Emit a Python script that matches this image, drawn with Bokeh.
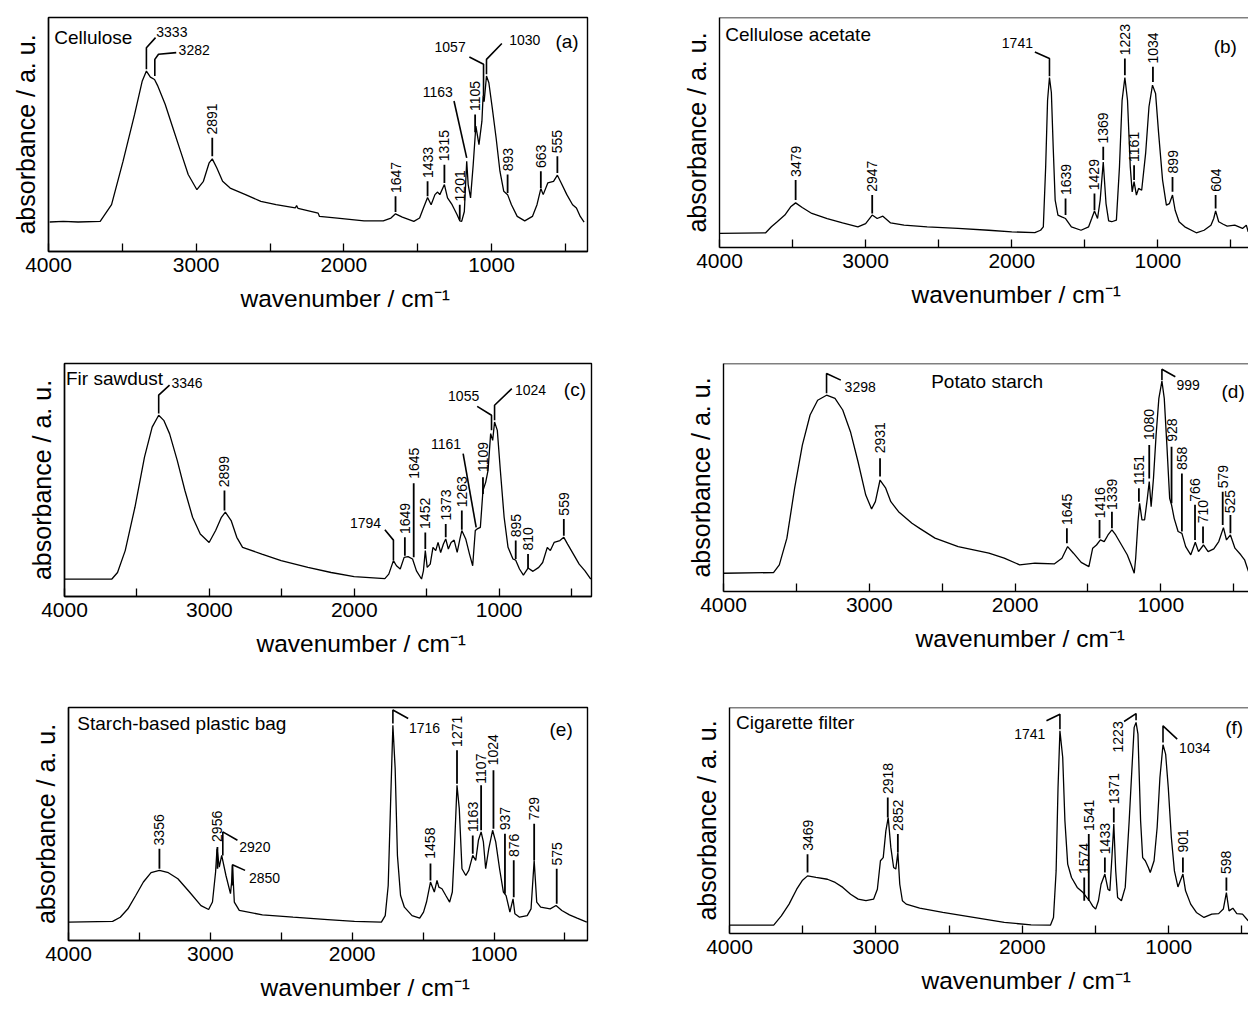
import math
from bokeh.plotting import figure
from bokeh.layouts import column, row
from bokeh.models import FixedTicker, Span, ColumnDataSource, Title
from bokeh.core.properties import value
from bokeh.embed import file_html
from bokeh.resources import INLINE

FONT = "Liberation Sans"
X_TICKS = [4000, 3000, 2000, 1000]
X_MINOR = [3500, 2500, 1500, 500]
X_TICK_LABELS = ["4000", "3000", "2000", "1000"]
Y_LABEL = "absorbance / a. u."
X_LABEL = "wavenumber / cm\u207b\u00b9"

# ---------------- (a) Cellulose ----------------
A_NAME, A_TAG = "Cellulose", "(a)"
A_WN = [3992, 3900, 3800, 3650, 3573, 3495, 3417, 3365, 3337, 3310, 3282, 3262, 3210, 3158, 3106,
        3054, 2995, 2951, 2912, 2891, 2860, 2821, 2770, 2666, 2562, 2459, 2329, 2320, 2310, 2174,
        2165, 2044, 1863, 1733, 1681, 1650, 1604, 1526, 1487, 1461, 1433, 1409, 1383, 1365, 1350,
        1319, 1298, 1267, 1233, 1215, 1202, 1184, 1168, 1158, 1142, 1124, 1106, 1085, 1065, 1057,
        1050, 1034, 1018, 995, 969, 943, 917, 891, 865, 826, 775, 723, 692, 666, 650, 619, 580,
        554, 528, 490, 451, 425, 399, 373]
A_AB = [12.6, 12.9, 12.6, 12.9, 20.0, 38.6, 58.6, 72.9, 77.1, 74.5, 73.5, 71.0, 62.9, 52.9, 42.9,
        32.9, 26.4, 30.0, 37.9, 39.6, 35.7, 30.0, 27.1, 24.3, 21.4, 20.0, 18.6, 19.6, 18.4, 16.4,
        15.0, 14.3, 13.1, 13.1, 14.3, 16.1, 14.7, 12.9, 14.3, 18.6, 23.1, 20.0, 24.3, 25.4, 24.3,
        28.6, 22.9, 20.0, 15.7, 13.1, 12.9, 17.1, 38.6, 28.6, 22.9, 37.1, 53.6, 45.7, 55.7, 66.5,
        64.0, 75.0, 72.1, 61.4, 48.6, 34.3, 25.7, 24.3, 20.0, 15.0, 13.1, 15.0, 20.0, 26.9, 24.3,
        29.3, 30.0, 32.6, 29.3, 24.3, 20.0, 18.6, 15.0, 12.6]
A_VPEAKS = [("2891", 2891, 40.7, 48.6, 50.0), ("1647", 1650, 16.9, 23.6, 25.0),
            ("1433", 1433, 23.6, 30.0, 31.4), ("1315", 1319, 29.3, 37.1, 38.6),
            ("1201", 1215, 13.6, 20.0, 21.4), ("1105", 1111, 51.0, 58.6, 60.0),
            ("893", 891, 25.0, 32.9, 34.3), ("663", 666, 27.1, 34.3, 35.7),
            ("555", 554, 33.6, 40.7, 42.0)]
A_BENT = [("3333", [3337, 3337, 3275], [77.9, 87.1, 91.4], 3270, 93.6, "left", 0),
          ("3282", [3280, 3280, 3255, 3135], [75.0, 82.1, 84.3, 85.0], 3119, 86.0, "left", 0),
          ("1163", [1168, 1254], [40.0, 64.3], 1262, 68.3, "right", 0),
          ("1057", [1054, 1054, 1150], [66.4, 80.0, 83.1], 1175, 87.4, "right", 0),
          ("1030", [1034, 1034, 930], [75.7, 82.1, 88.9], 880, 90.3, "left", 0)]
A_NAME_POS, A_TAG_POS = (3961, 91.4), (567, 89.7)

# ---------------- (b) Cellulose acetate ----------------
B_NAME, B_TAG = "Cellulose acetate", "(b)"
B_WN = [4000, 3684, 3645, 3605, 3553, 3513, 3479, 3434, 3368, 3263, 3158, 3053, 3000, 2955, 2921,
        2882, 2829, 2737, 2579, 2368, 2158, 2000, 1842, 1803, 1784, 1768, 1755, 1742, 1729, 1716,
        1703, 1684, 1658, 1632, 1592, 1526, 1474, 1453, 1434, 1413, 1395, 1374, 1355, 1337, 1316,
        1284, 1263, 1245, 1226, 1208, 1189, 1176, 1163, 1147, 1132, 1111, 1084, 1061, 1037, 1016,
        995, 968, 942, 921, 900, 882, 855, 816, 737, 684, 637, 618, 605, 584, 553, 526, 474, 421,
        395, 382]
B_AB = [6.1, 6.4, 9.0, 11.2, 14.1, 17.7, 19.4, 17.4, 14.8, 12.6, 10.7, 9.0, 10.4, 14.1, 12.6,
        13.6, 10.7, 9.7, 9.0, 8.3, 7.5, 6.8, 6.5, 7.5, 9.0, 35.0, 64.0, 73.9, 67.4, 42.8,
        20.6, 14.1, 13.3, 12.6, 9.0, 7.5, 9.0, 12.6, 15.9, 12.6, 20.6, 37.2, 19.1, 11.6, 11.2,
        11.9, 35.0, 64.0, 73.9, 64.0, 35.0, 24.2, 28.6, 22.8, 25.7, 24.9, 40.9, 61.2, 70.6, 67.0,
        49.6, 29.3, 18.4, 19.1, 22.8, 16.2, 11.2, 9.0, 6.4, 7.5, 9.7, 12.6, 15.9, 11.2, 10.1, 9.3,
        9.7, 8.3, 9.7, 6.8]
B_VPEAKS = [("3479", 3479, 20.6, 29.3, 30.7), ("2947", 2955, 14.8, 22.8, 24.2),
            ("1639", 1632, 14.1, 21.3, 22.8), ("1429", 1434, 16.2, 23.5, 24.9),
            ("1369", 1374, 38.0, 43.8, 45.2), ("1223", 1226, 74.9, 82.2, 83.6),
            ("1161", 1163, 29.3, 35.8, 37.2), ("1034", 1034, 72.0, 78.6, 80.0),
            ("899", 900, 24.2, 30.7, 32.2), ("604", 605, 17.0, 22.8, 24.2)]
B_BENT = [("1741", [1742, 1742, 1842], [74.5, 82.2, 85.0], 1855, 88.7, "right", 0)]
B_NAME_POS, B_TAG_POS = (3961, 92.8), (618, 87.2)

# ---------------- (c) Fir sawdust ----------------
C_NAME, C_TAG = "Fir sawdust", "(c)"
C_WN = [4000, 3673, 3634, 3581, 3514, 3448, 3395, 3350, 3315, 3275, 3222, 3169, 3116, 3063, 3002,
        2957, 2917, 2890, 2850, 2811, 2771, 2638, 2505, 2320, 2160, 2001, 1789, 1762, 1730, 1709,
        1683, 1656, 1629, 1598, 1571, 1536, 1523, 1510, 1497, 1476, 1457, 1438, 1422, 1404, 1385,
        1369, 1351, 1332, 1311, 1290, 1271, 1258, 1231, 1205, 1183, 1165, 1152, 1130, 1112, 1093,
        1077, 1059, 1045, 1032, 1013, 992, 966, 939, 905, 886, 860, 833, 801, 767, 727, 700, 668,
        647, 621, 581, 554, 528, 488, 448, 408, 368]
C_AB = [7.5, 7.5, 10.3, 19.7, 38.3, 59.8, 72.7, 77.8, 75.6, 69.9, 58.4, 45.5, 34.0, 26.8, 23.2,
        28.3, 34.0, 36.2, 32.6, 25.4, 21.1, 18.2, 15.4, 12.5, 10.3, 8.5, 7.7, 9.6, 15.4, 13.2,
        11.8, 16.8, 17.1, 16.1, 11.0, 7.5, 11.0, 19.7, 12.5, 13.9, 21.1, 19.7, 23.2, 18.9, 22.5,
        24.7, 20.4, 23.2, 24.2, 18.9, 24.7, 28.3, 24.7, 18.2, 13.2, 28.3, 29.0, 29.7, 45.5, 49.1,
        54.1, 69.9, 67.0, 74.9, 71.3, 54.1, 34.0, 21.1, 16.1, 15.6, 11.8, 9.2, 12.2, 10.8, 12.5,
        14.6, 21.1, 19.7, 23.2, 24.0, 25.4, 22.5, 18.2, 13.9, 11.0, 7.5]
C_VPEAKS = [("2899", 2896, 36.9, 45.5, 46.9), ("1649", 1651, 17.5, 25.4, 26.8),
            ("1645", 1590, 16.8, 48.6, 50.5), ("1452", 1510, 20.4, 27.5, 29.0),
            ("1373", 1369, 25.4, 31.1, 32.6), ("1263", 1258, 28.6, 36.9, 38.3),
            ("1109", 1112, 44.0, 51.2, 53.4), ("895", 886, 16.1, 24.0, 25.4),
            ("810", 801, 12.2, 18.2, 19.7), ("559", 554, 26.1, 33.3, 34.7)]
C_BENT = [("3346", [3350, 3350, 3275], [78.5, 86.4, 90.7], 3262, 91.7, "left", 0),
          ("1794", [1730, 1730, 1789], [15.6, 24.2, 28.6], 1815, 31.4, "right", 0),
          ("1161", [1159, 1249], [29.7, 61.3], 1263, 65.3, "right", 0),
          ("1055", [1053, 1053, 1152], [71.3, 77.8, 81.6], 1138, 85.9, "right", 0),
          ("1024", [1032, 1032, 913], [75.6, 82.1, 89.2], 891, 88.8, "left", 0)]
C_NAME_POS, C_TAG_POS = (3990, 93.5), (554, 88.8)

# ---------------- (d) Potato starch ----------------
D_NAME, D_TAG = "Potato starch", "(d)"
D_WN = [4000, 3657, 3617, 3565, 3512, 3459, 3406, 3354, 3293, 3235, 3182, 3129, 3077, 3024, 2984,
        2958, 2926, 2887, 2852, 2799, 2707, 2654, 2549, 2390, 2179, 2074, 1968, 1863, 1731, 1678,
        1639, 1599, 1546, 1493, 1467, 1441, 1414, 1388, 1362, 1335, 1309, 1269, 1230, 1203, 1182,
        1172, 1156, 1145, 1129, 1111, 1092, 1079, 1066, 1050, 1032, 1013, 992, 976, 958, 939, 926,
        908, 881, 855, 829, 794, 763, 741, 707, 675, 636, 602, 570, 549, 522, 491, 451, 425, 398]
D_AB = [8.0, 8.3, 11.7, 23.4, 45.3, 64.2, 77.4, 83.9, 86.1, 84.7, 79.6, 70.1, 56.9, 42.3, 36.2,
        39.4, 48.9, 45.3, 39.4, 35.0, 29.9, 27.7, 23.4, 19.7, 16.8, 14.6, 11.7, 12.4, 12.1, 14.6,
        19.7, 16.8, 12.8, 10.9, 19.0, 20.4, 22.6, 21.9, 24.8, 27.0, 24.8, 20.4, 16.1, 11.7, 8.0,
        14.6, 30.7, 38.7, 31.4, 31.4, 40.9, 48.2, 37.2, 49.6, 68.6, 84.7, 92.3, 84.7, 64.2, 40.9,
        38.0, 32.1, 26.3, 25.5, 19.7, 16.1, 21.6, 17.5, 20.4, 17.5, 18.7, 21.9, 28.0, 22.6, 24.8,
        19.0, 16.1, 13.9, 8.8]
D_VPEAKS = [("2931", 2926, 50.4, 58.4, 60.6), ("1645", 1644, 21.2, 27.7, 29.2),
            ("1416", 1420, 23.4, 31.4, 32.1), ("1339", 1335, 27.7, 35.0, 35.8),
            ("1151", 1150, 39.4, 45.3, 46.7), ("1080", 1079, 49.6, 64.2, 66.4),
            ("928", 926, 38.7, 63.5, 65.7), ("858", 855, 26.3, 51.8, 53.3),
            ("766", 765, 22.6, 38.0, 39.4), ("710", 710, 21.2, 28.5, 29.9),
            ("579", 575, 29.2, 43.8, 45.3), ("525", 522, 25.5, 33.6, 34.3)]
D_BENT = [("3298", [3293, 3293, 3195], [86.9, 95.6, 92.7], 3169, 89.8, "left", 0),
          ("999", [992, 992, 900], [92.7, 97.5, 94.2], 892, 90.5, "left", 0)]
D_NAME_POS, D_TAG_POS = (2575, 92.0), (583, 87.6)

# ---------------- (e) Starch-based plastic bag ----------------
E_NAME, E_TAG = "Starch-based plastic bag", "(e)"
E_WN = [4000, 3689, 3635, 3581, 3526, 3472, 3418, 3359, 3296, 3229, 3147, 3066, 3012, 2985, 2963,
        2953, 2937, 2920, 2890, 2858, 2850, 2844, 2831, 2796, 2633, 2417, 2173, 1984, 1794, 1767,
        1746, 1729, 1713, 1697, 1681, 1659, 1632, 1578, 1524, 1497, 1476, 1448, 1421, 1402, 1389,
        1367, 1340, 1313, 1294, 1280, 1261, 1245, 1226, 1199, 1178, 1150, 1129, 1110, 1091, 1075,
        1059, 1037, 1010, 988, 961, 934, 915, 888, 866, 853, 820, 766, 739, 717, 699, 671, 604,
        563, 522, 468, 414, 346]
E_AB = [7.9, 8.2, 10.0, 13.6, 19.3, 25.1, 29.1, 30.1, 29.1, 26.5, 20.8, 15.0, 13.3, 16.5, 29.4,
        39.4, 31.5, 36.5, 27.9, 20.1, 25.0, 32.2, 16.5, 12.9, 11.0, 10.0, 9.0, 8.2, 7.9, 10.7,
        23.6, 59.5, 92.4, 73.8, 36.5, 19.3, 14.3, 10.7, 9.6, 12.2, 16.5, 25.1, 20.8, 25.8, 22.9,
        22.2, 19.3, 16.5, 20.8, 38.0, 66.6, 56.6, 30.8, 27.9, 30.1, 36.5, 34.4, 43.0, 46.6, 42.3,
        30.8, 39.4, 47.3, 42.3, 30.8, 20.8, 19.3, 12.2, 17.9, 11.5, 10.0, 10.7, 13.6, 34.4, 16.5,
        14.3, 13.6, 15.0, 12.9, 11.0, 9.6, 7.9]
E_VPEAKS = [("3356", 3359, 30.8, 39.4, 40.8), ("2956", 2950, 30.8, 40.1, 42.3),
            ("1458", 1448, 25.8, 33.0, 35.1), ("1271", 1261, 67.3, 81.7, 83.1),
            ("1163", 1150, 37.2, 45.1, 46.6), ("1107", 1091, 47.3, 66.6, 67.3),
            ("1024", 1004, 48.0, 73.1, 75.2), ("937", 923, 20.1, 45.8, 47.3),
            ("876", 861, 18.6, 34.4, 35.8), ("729", 717, 34.4, 50.1, 51.6),
            ("575", 558, 15.8, 30.8, 32.2)]
E_BENT = [("2920", [2912, 2912, 2809], [36.5, 46.6, 43.0], 2796, 40.1, "left", 0),
          ("2850", [2844, 2844, 2755], [23.6, 32.5, 30.1], 2728, 26.8, "left", 0),
          ("1716", [1713, 1713, 1605], [93.1, 98.9, 95.3], 1600, 91.0, "left", 0)]
E_NAME_POS, E_TAG_POS = (3938, 93.1), (609, 90.7)

# ---------------- (f) Cigarette filter ----------------
F_NAME, F_TAG = "Cigarette filter", "(f)"
F_WN = [4000, 3698, 3646, 3593, 3541, 3501, 3467, 3409, 3331, 3278, 3226, 3173, 3121, 3068, 3016,
        2990, 2969, 2950, 2932, 2916, 2898, 2879, 2864, 2850, 2837, 2819, 2793, 2701, 2543, 2333,
        2123, 1940, 1808, 1787, 1769, 1756, 1743, 1724, 1709, 1690, 1664, 1625, 1585, 1559, 1541,
        1520, 1499, 1480, 1462, 1436, 1415, 1402, 1388, 1375, 1362, 1349, 1323, 1297, 1270, 1252,
        1236, 1223, 1210, 1192, 1178, 1160, 1139, 1126, 1100, 1079, 1060, 1039, 1021, 1003, 982,
        961, 937, 903, 885, 850, 811, 759, 706, 659, 627, 606, 588, 562, 535, 496, 457]
F_AB = [3.7, 3.7, 7.8, 13.0, 19.6, 23.6, 25.5, 24.8, 24.0, 22.6, 20.4, 17.4, 15.2, 14.5, 15.2,
        19.6, 32.2, 33.6, 45.4, 51.3, 38.1, 29.2, 28.5, 35.8, 21.8, 14.5, 13.0, 11.2, 9.3, 7.1,
        4.9, 3.8, 3.7, 7.1, 27.7, 64.6, 89.7, 77.9, 49.9, 30.7, 24.8, 20.4, 18.1, 15.9, 14.5,
        12.2, 10.8, 14.5, 21.8, 26.3, 19.6, 18.9, 33.6, 48.4, 27.7, 15.9, 14.5, 20.4, 49.9, 72.0,
        91.2, 93.4, 88.2, 49.9, 33.6, 32.2, 29.2, 27.0, 32.2, 46.9, 69.0, 83.5, 79.4, 64.6, 42.5,
        27.7, 20.6, 26.3, 18.9, 13.0, 9.3, 7.1, 8.6, 8.8, 10.8, 18.1, 10.0, 11.2, 8.8, 8.6, 5.6]
F_VPEAKS = [("3469", 3467, 27.0, 35.1, 36.6), ("2918", 2919, 51.3, 60.2, 61.7),
            ("2852", 2850, 35.8, 44.0, 45.4), ("1574", 1577, 14.5, 24.8, 26.3),
            ("1541", 1546, 14.5, 44.0, 45.4), ("1433", 1436, 27.0, 33.6, 35.1),
            ("1371", 1375, 49.1, 55.8, 57.2), ("901", 903, 27.0, 33.6, 35.8),
            ("598", 606, 18.9, 24.8, 26.3)]
F_BENT = [("1741", [1743, 1743, 1835], [90.4, 97.0, 94.1], 1843, 88.2, "right", 0),
          ("1223", [1223, 1223, 1305], [94.4, 97.3, 93.8], 1344, 80.1, "left", 90),
          ("1034", [1039, 1039, 942], [84.5, 91.9, 86.0], 929, 81.9, "left", 0)]
F_NAME_POS, F_TAG_POS = (3955, 93.4), (614, 91.2)

# geometry: (border_left, frame_w, border_right, border_top, frame_h, border_bottom, x_end, right_col)
GEOM = {
    "a": (48, 539, 73, 13, 234, 83, 350, False),
    "b": (59, 529, 0, 17, 230, 83, 380, True),
    "c": (64, 527, 69, 33, 233, 74, 363, False),
    "d": (63, 525, 0, 25, 228, 87, 398, True),
    "e": (68, 519, 73, 37, 233, 69, 341, False),
    "f": (69, 519, 0, 37, 226, 76, 455, True),
}


def build(key, name, tag, wn, ab, vpeaks, bent, name_pos, tag_pos):
    bl, fw, br, bt, fh, bb, xend, right_col = GEOM[key]
    p = figure(frame_width=fw, frame_height=fh, min_border_left=bl, min_border_right=br,
               min_border_top=bt, min_border_bottom=bb, x_range=(4000, xend), y_range=(0, 100),
               output_backend="svg", toolbar_location=None, title=None)
    p.background_fill_color = "white"
    p.border_fill_color = "white"
    p.grid.visible = False
    if right_col:
        p.outline_line_color = None
        p.add_layout(Span(location=100, dimension="width", line_color="black", line_width=1.4))
    else:
        p.outline_line_color = "black"
        p.outline_line_width = 1.4
        p.outline_line_alpha = 1.0

    xa = p.xaxis[0]
    xa.ticker = FixedTicker(ticks=X_TICKS, minor_ticks=X_MINOR)
    xa.major_label_overrides = {t: l for t, l in zip(X_TICKS, X_TICK_LABELS)}
    xa.major_tick_in = 8
    xa.major_tick_out = 0
    xa.minor_tick_in = 8
    xa.minor_tick_out = 0
    xa.major_tick_line_width = 1.3
    xa.minor_tick_line_width = 1.3
    xa.axis_line_width = 1.4
    xa.major_label_text_font = FONT
    xa.major_label_text_font_size = "21px"
    xa.major_label_text_color = "black"
    xa.major_label_standoff = 6

    ya = p.yaxis[0]
    ya.ticker = FixedTicker(ticks=[])
    ya.major_tick_out = 0
    ya.major_tick_in = 0
    ya.minor_tick_out = 0
    ya.minor_tick_in = 0
    ya.major_label_standoff = 0
    ya.major_label_text_font_size = "0px"
    ya.axis_line_width = 1.4
    ya.axis_label = Y_LABEL
    ya.axis_label_text_font = FONT
    ya.axis_label_text_font_size = "25px"
    ya.axis_label_text_font_style = "normal"
    ya.axis_label_text_color = "black"
    ya.axis_label_standoff = 9

    # x axis label as a title in the panel below the axis
    p.add_layout(Title(text=X_LABEL, align="left", offset=192, standoff=16,
                       text_font=FONT, text_font_size="24.5px", text_font_style="normal",
                       text_color="black"), "below")

    # spectrum
    p.line(wn, ab, line_color="black", line_width=1.3)

    # vertical peak labels
    vs = ColumnDataSource(dict(t=[v[0] for v in vpeaks], x=[v[1] for v in vpeaks],
                               y0=[v[2] for v in vpeaks], y1=[v[3] for v in vpeaks],
                               yt=[v[4] for v in vpeaks]))
    p.segment(x0="x", y0="y0", x1="x", y1="y1", source=vs, line_color="black", line_width=1.8)
    p.text(x="x", y="yt", text="t", source=vs, angle=math.pi / 2, text_align="left",
           text_baseline="middle", text_font=value(FONT), text_font_size="14px", text_color="black")

    # bent leaders + horizontal (or rotated) labels
    p.multi_line(xs=[b[1] for b in bent], ys=[b[2] for b in bent], line_color="black", line_width=1.6)
    for b in bent:
        p.text(x=[b[3]], y=[b[4]], text=[b[0]], angle=math.radians(b[6]), text_align=b[5],
               text_baseline="middle", text_font=value(FONT), text_font_size="14px",
               text_color="black")

    # panel name and tag
    p.text(x=[name_pos[0]], y=[name_pos[1]], text=[name], text_align="left", text_baseline="middle",
           text_font=value(FONT), text_font_size="19px", text_color="black")
    p.text(x=[tag_pos[0]], y=[tag_pos[1]], text=[tag], text_align="left", text_baseline="middle",
           text_font=value(FONT), text_font_size="19px", text_color="black")
    return p


pa = build("a", A_NAME, A_TAG, A_WN, A_AB, A_VPEAKS, A_BENT, A_NAME_POS, A_TAG_POS)
pb = build("b", B_NAME, B_TAG, B_WN, B_AB, B_VPEAKS, B_BENT, B_NAME_POS, B_TAG_POS)
pc = build("c", C_NAME, C_TAG, C_WN, C_AB, C_VPEAKS, C_BENT, C_NAME_POS, C_TAG_POS)
pd = build("d", D_NAME, D_TAG, D_WN, D_AB, D_VPEAKS, D_BENT, D_NAME_POS, D_TAG_POS)
pe = build("e", E_NAME, E_TAG, E_WN, E_AB, E_VPEAKS, E_BENT, E_NAME_POS, E_TAG_POS)
pf = build("f", F_NAME, F_TAG, F_WN, F_AB, F_VPEAKS, F_BENT, F_NAME_POS, F_TAG_POS)

layout = column(row(pa, pb, spacing=0), row(pc, pd, spacing=0), row(pe, pf, spacing=0), spacing=0)
open("out.html", "w").write(file_html(layout, INLINE))
